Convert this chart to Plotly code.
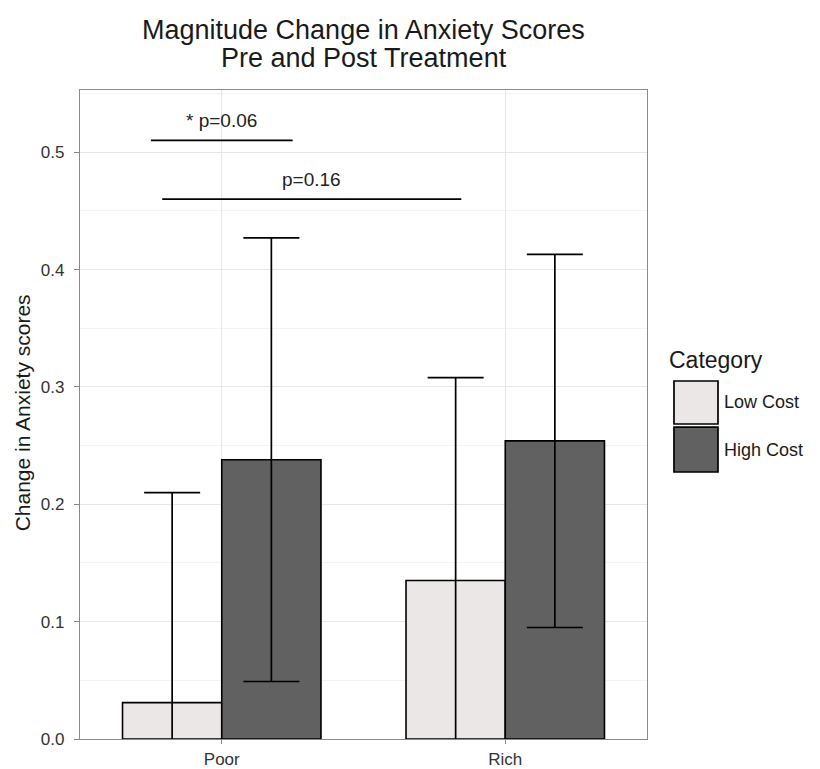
import plotly.graph_objects as go

categories = ["Poor", "Rich"]
series_names = ["Low Cost", "High Cost"]
low_cost_mean = [0.031, 0.135]
low_cost_se = [0.179, 0.173]
high_cost_mean = [0.238, 0.254]
high_cost_se = [0.189, 0.159]

sig_labels = ["* p=0.06", "p=0.16"]
sig_y = [0.51, 0.46]
sig_x0 = [-0.25, -0.21]
sig_x1 = [0.25, 0.845]

y_ticks = [0.0, 0.1, 0.2, 0.3, 0.4, 0.5]

low_color = "#EBE7E7"
high_color = "#616161"
FONT = "Liberation Sans, Arial, sans-serif"

fig = go.Figure()
for name, means, ses, col in [
    (series_names[0], low_cost_mean, low_cost_se, low_color),
    (series_names[1], high_cost_mean, high_cost_se, high_color),
]:
    fig.add_trace(go.Bar(
        x=categories, y=means, name=name,
        marker=dict(color=col, line=dict(color="black", width=1.6)),
        error_y=dict(type="data", array=ses, visible=True,
                     color="black", thickness=1.7, width=28),
        showlegend=False,
    ))

shapes = []
annotations = []
for lab, y, x0, x1 in zip(sig_labels, sig_y, sig_x0, sig_x1):
    shapes.append(dict(type="line", xref="x", yref="y", x0=x0, x1=x1, y0=y, y1=y,
                       line=dict(color="black", width=1.7)))
    annotations.append(dict(xref="x", yref="y", x=(x0 + x1) / 2, y=y, text=lab,
                            showarrow=False, yanchor="bottom", yshift=7,
                            font=dict(family=FONT, size=19, color="#222")))

# title (two centred lines)
title_lines = ["Magnitude Change in Anxiety Scores", "Pre and Post Treatment"]
for txt, yy in zip(title_lines, [1.0925, 1.0493]):
    annotations.append(dict(xref="paper", yref="paper", x=0.5, y=yy, text=txt,
                            showarrow=False, xanchor="center", yanchor="middle",
                            font=dict(family=FONT, size=27, color="#1a1a1a")))

# y axis title
annotations.append(dict(xref="paper", yref="paper", x=-0.102, y=0.502,
                        text="Change in Anxiety scores", textangle=-90,
                        showarrow=False, xanchor="center", yanchor="middle",
                        font=dict(family=FONT, size=21, color="#1a1a1a")))

# custom legend
annotations.append(dict(xref="paper", yref="paper", x=1.035, y=0.584, text="Category",
                        showarrow=False, xanchor="left", yanchor="middle",
                        font=dict(family=FONT, size=23, color="#1a1a1a")))
leg_cols = [low_color, high_color]
leg_boxes = [(0.5516, 0.4854), (0.4807, 0.4114)]
for nm, col, (top, bot) in zip(series_names, leg_cols, leg_boxes):
    shapes.append(dict(type="rect", xref="paper", yref="paper",
                       x0=1.0476, x1=1.1252, y0=bot, y1=top,
                       fillcolor=col, line=dict(color="black", width=1.7)))
    annotations.append(dict(xref="paper", yref="paper", x=1.133, y=(top + bot) / 2, text=nm,
                            showarrow=False, xanchor="left", yanchor="middle",
                            font=dict(family=FONT, size=18, color="#1a1a1a")))

fig.update_layout(
    width=820, height=769,
    margin=dict(l=80, r=173, t=90, b=30),
    paper_bgcolor="white", plot_bgcolor="white",
    barmode="group", bargap=0.3, bargroupgap=0,
    shapes=shapes, annotations=annotations,
    showlegend=False,
)
fig.update_xaxes(
    range=[-0.5, 1.5], showgrid=True, gridcolor="#E6E6E6", gridwidth=1,
    ticks="outside", ticklen=4, tickcolor="#888", automargin=False,
    showline=True, linecolor="#8a8a8a", linewidth=1.3, mirror=True,
    tickfont=dict(family=FONT, size=17, color="#333"),
)
fig.update_yaxes(
    range=[0, 0.553], tickvals=y_ticks, ticktext=[f"{v:.1f}" for v in y_ticks],
    showgrid=True, gridcolor="#E6E6E6", gridwidth=1, zeroline=False,
    minor=dict(dtick=0.05, tick0=0.05, showgrid=True, gridcolor="#F3F3F3", ticks=""),
    ticks="outside", ticklen=5, tickcolor="#888", automargin=False,
    ticklabelstandoff=6,
    showline=True, linecolor="#8a8a8a", linewidth=1.3, mirror=True,
    tickfont=dict(family=FONT, size=17, color="#333"),
)
fig.write_html("out.html")
